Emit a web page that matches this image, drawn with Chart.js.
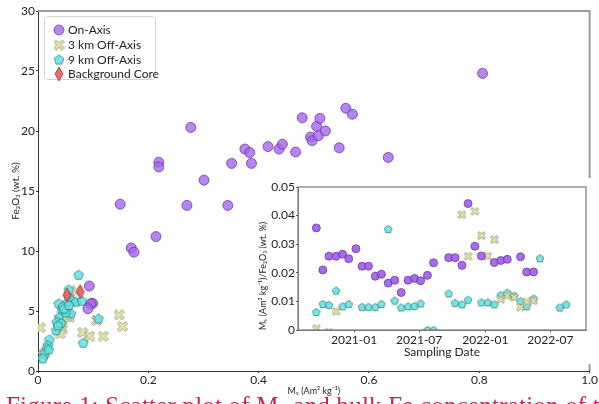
<!DOCTYPE html>
<html>
<head>
<meta charset="utf-8">
<script src="https://cdn.jsdelivr.net/npm/chart.js@4"></script>
<style>
body{margin:0;width:599px;height:404px;overflow:hidden;background:#fff;position:relative}
#main{position:absolute;left:0;top:0}
#inset{position:absolute;left:252px;top:178px}
#cap{position:absolute;left:6px;top:393px;font:25px 'Liberation Serif';letter-spacing:0.2px;color:#c02a55;white-space:nowrap;line-height:25px}
</style>
</head>
<body>
<canvas id="main" width="599" height="404"></canvas>
<canvas id="inset" width="340" height="186"></canvas>
<div id="cap">Figure 1: Scatter plot of Mₛ and bulk Fe concentration of the</div>
<script>
// main plot: Ms vs Fe2O3
var onAxisX = [0.277,0.219,0.219,0.301,0.149,0.270,0.344,0.351,0.375,0.384,0.387,0.417,0.437,0.443,0.467,0.479,0.494,0.497,0.505,0.508,0.511,0.521,0.546,0.558,0.570,0.635,0.806,0.169,0.174,0.214,0.093,0.099,0.096,0.0905];
var onAxisY = [20.3,17.4,17.0,15.9,13.9,13.8,13.8,17.3,18.5,18.2,17.3,18.7,18.5,18.9,18.25,21.1,19.5,19.2,20.4,19.6,21.05,20.0,18.6,21.9,21.4,17.8,24.8,10.25,9.9,11.2,7.08,5.64,5.6,5.2];

var km3X = [0.004,0.0388,0.0418,0.0375,0.0568,0.052,0.081,0.094,0.118,0.106,0.0117,0.0087,0.147,0.153,0.07,0.045,0.04];
var km3Y = [3.6,4.25,3.83,3.7,4.47,4.58,3.2,2.9,2.9,4.2,1.47,1.3,4.67,3.7,6.67,3.5,3.1];

var km9X = [0.0736,0.0556,0.0556,0.0375,0.0527,0.0436,0.0509,0.063,0.0688,0.0797,0.0598,0.0388,0.034,0.0328,0.0207,0.0177,0.016,0.0117,0.0087,0.1097,0.082,0.0195,0.045,0.05,0.047,0.056,0.042,0.036];
var km9Y = [8.03,6.8,6.2,5.64,5.7,5.08,5.08,5.86,5.78,5.86,4.8,4.53,4.1,3.4,2.64,2.17,1.9,1.47,1.06,4.39,2.36,1.8,5.4,4.9,5.2,5.5,4.0,3.8];

var coreX = [0.0526,0.0766];
var coreY = [6.33,6.6];

// inset: Ms/Fe2O3 vs sampling date
var inOnDates = ['2020-09-18','2020-10-06','2020-10-23','2020-11-12','2020-11-30','2020-12-17','2021-01-06','2021-01-23','2021-02-10','2021-03-01','2021-03-18','2021-04-06','2021-04-24','2021-05-12','2021-05-31','2021-06-18','2021-07-05','2021-07-24','2021-08-10','2021-09-21','2021-10-09','2021-10-28','2021-11-14','2021-12-03','2021-12-21','2022-01-26','2022-02-13','2022-03-03','2022-04-09','2022-04-26','2022-05-15'];
var inOnVals = [0.0357,0.0210,0.0258,0.0258,0.0265,0.0249,0.0284,0.0223,0.0223,0.0188,0.0195,0.0164,0.0174,0.0131,0.0174,0.0180,0.0172,0.0191,0.0235,0.0253,0.0253,0.0226,0.0442,0.0293,0.0259,0.0236,0.0243,0.0247,0.0256,0.0203,0.0203];

var in3Dates = ['2020-09-18','2020-10-23','2020-11-12','2021-10-28','2021-11-14','2021-12-03','2021-12-21','2022-01-08','2022-01-26','2022-02-13','2022-03-03','2022-03-22','2022-04-09','2022-04-26','2022-05-15'];
var in3Vals = [0.0005,-0.0007,0.0065,0.0403,0.0258,0.0415,0.0330,0.0258,0.0316,0.0107,0.0120,0.0114,0.0080,0.0098,0.0102];

var in9Dates = ['2020-09-18','2020-10-06','2020-10-23','2020-11-12','2020-11-30','2020-12-17','2021-01-23','2021-02-10','2021-03-01','2021-03-18','2021-04-06','2021-04-24','2021-05-12','2021-05-31','2021-06-18','2021-07-05','2021-07-24','2021-08-10','2021-09-21','2021-10-09','2021-10-28','2021-11-14','2021-12-21','2022-01-08','2022-01-26','2022-02-13','2022-03-03','2022-03-22','2022-04-09','2022-04-26','2022-05-15','2022-06-02','2022-07-27','2022-08-14'];
var in9Vals = [0.0063,0.0091,0.0088,0.0138,0.0083,0.0091,0.0081,0.0081,0.0080,0.0091,0.0353,0.0103,0.0079,0.0083,0.0084,0.0093,0,0,0.0128,0.0095,0.0090,0.0106,0.0097,0.0097,0.0090,0.0122,0.0131,0.0120,0.0101,0.0083,0.0110,0.0251,0.0079,0.0090];

var inTickLabels = ['2021-01','2021-07','2022-01','2022-07'];
var inStart = '2020-07-29', inEnd = '2022-10-08';

var seriesNames = ['On-Axis','3 km Off-Axis','9 km Off-Axis','Background Core'];

function pts(xs, ys){ return xs.map(function(x,i){ return {x:x, y:ys[i]}; }); }
function datePts(ds, vs){ return ds.map(function(d,i){ return {x:Date.parse(d), y:vs[i]}; }); }

function mkImg(w,h,draw){
  var c = document.createElement('canvas'); c.width=w; c.height=h;
  draw(c.getContext('2d'), w, h); return c;
}
function crossImg(s){
  return mkImg(s+2,s+2,function(g,w,h){
    var a=s*0.17, L=s*0.62;
    g.translate(w/2,h/2); g.rotate(Math.PI/4);
    g.beginPath();
    var p=[[-a,-L],[a,-L],[a,-a],[L,-a],[L,a],[a,a],[a,L],[-a,L],[-a,a],[-L,a],[-L,-a],[-a,-a]];
    p.forEach(function(q,i){ i?g.lineTo(q[0],q[1]):g.moveTo(q[0],q[1]); });
    g.closePath();
    g.fillStyle='rgba(228,228,168,0.95)'; g.fill();
    g.strokeStyle='#8c8c6c'; g.lineWidth=0.8; g.stroke();
  });
}
function pentImg(r){
  return mkImg(2*r+2,2*r+2,function(g,w,h){
    g.beginPath();
    for(var i=0;i<5;i++){
      var t=-Math.PI/2+i*2*Math.PI/5;
      var x=w/2+r*Math.cos(t), y=h/2+r*Math.sin(t)+r*0.1;
      i?g.lineTo(x,y):g.moveTo(x,y);
    }
    g.closePath();
    g.fillStyle='rgba(92,228,224,0.85)'; g.fill();
    g.strokeStyle='#3d7c7c'; g.lineWidth=0.8; g.stroke();
  });
}
function diamondImg(w,h){
  return mkImg(w+2,h+2,function(g,W,H){
    g.beginPath();
    g.moveTo(W/2,1); g.lineTo(W-1,H/2); g.lineTo(W/2,H-1); g.lineTo(1,H/2); g.closePath();
    g.fillStyle='rgba(234,100,96,0.95)'; g.fill();
    g.strokeStyle='#8a3a3a'; g.lineWidth=0.8; g.stroke();
  });
}

var purpleFill = 'rgba(168,104,240,0.82)', purpleEdge = 'rgba(95,55,140,0.9)';
var mainCross = crossImg(9), mainPent = pentImg(5), mainDiamond = diamondImg(8,14);
var inCross = crossImg(7), inPent = pentImg(4);

var frame = {
  id:'frame',
  afterDraw:function(c){
    var a=c.chartArea, g=c.ctx;
    g.save(); g.strokeStyle='#9a9a9a'; g.lineWidth=2;
    g.beginPath(); g.moveTo(a.left,a.top); g.lineTo(a.right,a.top); g.lineTo(a.right,a.bottom); g.stroke();
    g.restore();
  }
};

var legendBox = {
  id:'legendBox',
  afterDraw:function(c){
    var a=c.chartArea, g=c.ctx;
    var x0=a.left+6, y0=a.top+5;
    g.save();
    g.fillStyle='#fff'; g.strokeStyle='#d4d4d4'; g.lineWidth=1;
    g.beginPath(); g.roundRect(x0+0.5,y0+0.5,111,63,3); g.fill(); g.stroke();
    g.font='12px Lato'; g.fillStyle='#222'; g.textBaseline='middle';
    var ys=[14,29,43.5,58];
    var marks=[null, mainCross, mainPent, mainDiamond];
    for(var i=0;i<4;i++){
      var cx=x0+15, cy=y0+ys[i];
      if(i===0){
        g.beginPath(); g.arc(cx,cy,5,0,2*Math.PI);
        g.fillStyle=purpleFill; g.fill(); g.strokeStyle=purpleEdge; g.lineWidth=0.8; g.stroke();
      } else {
        g.drawImage(marks[i], cx-marks[i].width/2, cy-marks[i].height/2);
      }
      g.fillStyle='#222';
      g.fillText(seriesNames[i], x0+24, cy+0.5);
    }
    g.restore();
  }
};

Chart.defaults.font.family = 'Lato';
Chart.defaults.color = '#222';

new Chart(document.getElementById('main'), {
  type:'scatter',
  data:{datasets:[
    {label:seriesNames[0], data:pts(onAxisX,onAxisY), pointStyle:'circle', pointRadius:5, backgroundColor:purpleFill, borderColor:purpleEdge, borderWidth:0.8, order:1, clip:0},
    {label:seriesNames[1], data:pts(km3X,km3Y), pointStyle:mainCross, order:3, clip:0},
    {label:seriesNames[2], data:pts(km9X,km9Y), pointStyle:mainPent, order:2, clip:0},
    {label:seriesNames[3], data:pts(coreX,coreY), pointStyle:mainDiamond, order:0, clip:0}
  ]},
  options:{
    responsive:false, animation:false,
    layout:{padding:{left:0,top:11,right:6,bottom:8}},
    plugins:{legend:{display:false}, tooltip:{enabled:false}},
    scales:{
      x:{type:'linear', min:0, max:1,
        afterFit:function(s){ s.height=25; },
        afterBuildTicks:function(s){ s.ticks=[0,0.2,0.4,0.6,0.8,1].map(function(v){return {value:v};}); },
        ticks:{font:{size:12, lineHeight:1}, padding:1, maxRotation:0, callback:function(v){ return v===0?'0':v.toFixed(1); }},
        grid:{drawOnChartArea:false, drawTicks:true, tickLength:2, color:'#333'},
        border:{color:'#333', width:1},
        title:{display:true, text:'Mₛ (Am² kg⁻¹)', font:{size:9}, padding:{top:0,bottom:0}}
      },
      y:{type:'linear', min:0, max:30,
        afterFit:function(s){ s.width=38; },
        ticks:{stepSize:5, font:{size:12}, padding:1},
        grid:{drawOnChartArea:false, drawTicks:true, tickLength:2, color:'#333'},
        border:{color:'#333', width:1},
        title:{display:true, text:'Fe₂O₃ (wt. %)', font:{size:10}, padding:{top:10,bottom:0}}
      }
    }
  },
  plugins:[frame, legendBox]
});

var insetFrame = {
  id:'insetFrame',
  beforeDraw:function(c){
    var g=c.ctx; g.save(); g.fillStyle='#fff'; g.fillRect(0,0,c.width,c.height); g.restore();
  },
  afterDraw:function(c){
    var a=c.chartArea, g=c.ctx;
    g.save(); g.strokeStyle='#7a7a7a'; g.lineWidth=1.2;
    g.strokeRect(a.left,a.top,a.right-a.left,a.bottom-a.top);
    g.restore();
  }
};

new Chart(document.getElementById('inset'), {
  type:'scatter',
  data:{datasets:[
    {label:seriesNames[0], data:datePts(inOnDates,inOnVals), pointStyle:'circle', pointRadius:4, backgroundColor:'rgba(160,90,235,0.9)', borderColor:purpleEdge, borderWidth:0.8, order:0, clip:0},
    {label:seriesNames[1], data:datePts(in3Dates,in3Vals), pointStyle:inCross, order:1, clip:0},
    {label:seriesNames[2], data:datePts(in9Dates,in9Vals), pointStyle:inPent, order:2, clip:0}
  ]},
  options:{
    responsive:false, animation:false,
    layout:{padding:{left:0,top:9,right:6,bottom:5}},
    plugins:{legend:{display:false}, tooltip:{enabled:false}},
    scales:{
      x:{type:'linear', min:Date.parse(inStart), max:Date.parse(inEnd),
        afterFit:function(s){ s.height=29; },
        afterBuildTicks:function(s){ s.ticks=inTickLabels.map(function(l){ return {value:Date.parse(l+'-01')}; }); },
        ticks:{font:{size:12}, padding:1, maxRotation:0, callback:function(v){ var d=new Date(v); return d.getUTCFullYear()+'-'+String(d.getUTCMonth()+1).padStart(2,'0'); }},
        grid:{drawOnChartArea:false, drawTicks:true, tickLength:2, color:'#555'},
        border:{color:'#7a7a7a', width:1},
        title:{display:true, text:'Sampling Date', font:{size:12}, padding:{top:0,bottom:0}}
      },
      y:{type:'linear', min:0, max:0.05,
        afterFit:function(s){ s.width=46; },
        afterBuildTicks:function(s){ s.ticks=[0,0.01,0.02,0.03,0.04,0.05].map(function(v){return {value:v};}); },
        ticks:{font:{size:12}, padding:1, callback:function(v){ return v===0?'0':v.toFixed(2); }},
        grid:{drawOnChartArea:false, drawTicks:true, tickLength:2, color:'#555'},
        border:{color:'#7a7a7a', width:1},
        title:{display:true, align:'start', text:'Mₛ (Am² kg⁻¹)/Fe₂O₃ (wt. %)', font:{size:9}, padding:{top:6,bottom:0}}
      }
    }
  },
  plugins:[insetFrame]
});
</script>
</body>
</html>
